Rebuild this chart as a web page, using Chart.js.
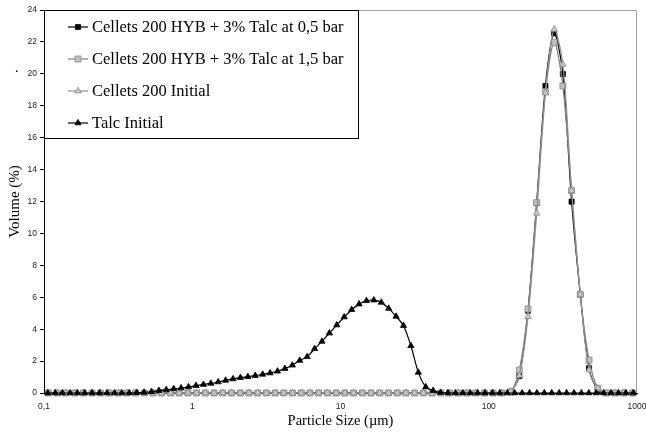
<!DOCTYPE html>
<html>
<head>
<meta charset="utf-8">
<script src="https://cdn.jsdelivr.net/npm/chart.js@4.4.0/dist/chart.umd.min.js"></script>
<style>
    html, body { margin: 0; padding: 0; background: #fff; }
    #wrap { width: 646px; height: 432px; }
</style>
</head>
<body>
<div id="wrap"><canvas id="grafico" width="646" height="432"></canvas></div>
<script>
// grade de tamanhos do talco (um), 20 classes por decada
const tamanhosTalc = [
    0.106, 0.119, 0.133, 0.150, 0.168, 0.188, 0.211, 0.237, 0.266, 0.299,
    0.335, 0.376, 0.422, 0.473, 0.531, 0.596, 0.668, 0.750, 0.841, 0.944,
    1.059, 1.189, 1.334, 1.496, 1.679, 1.884, 2.113, 2.371, 2.661, 2.985,
    3.350, 3.758, 4.217, 4.732, 5.309, 5.957, 6.683, 7.499, 8.414, 9.441,
    10.59, 11.89, 13.34, 14.96, 16.79, 18.84, 21.13, 23.71, 26.61, 29.85,
    33.50, 37.58, 42.17, 47.32, 53.09, 59.57, 66.83, 74.99, 84.14, 94.41,
    105.9, 118.9, 133.4, 149.6, 167.9, 188.4, 211.3, 237.1, 266.1, 298.5,
    335.0, 375.8, 421.7, 473.2, 530.9, 595.7, 668.3, 749.9, 841.4, 944.1
];
const talcInicial = [
    0, 0, 0, 0, 0, 0, 0, 0, 0, 0,
    0, 0, 0.02, 0.04, 0.08, 0.15, 0.20, 0.26, 0.31, 0.38,
    0.46, 0.53, 0.60, 0.69, 0.79, 0.88, 0.96, 1.02, 1.09, 1.17,
    1.25, 1.36, 1.53, 1.74, 2.04, 2.27, 2.77, 3.23, 3.75, 4.26,
    4.76, 5.22, 5.57, 5.78, 5.82, 5.68, 5.30, 4.80, 4.22, 2.96,
    1.29, 0.38, 0.15, 0.03, 0, 0, 0, 0, 0, 0,
    0, 0, 0, 0, 0, 0, 0, 0, 0, 0,
    0, 0, 0, 0, 0, 0, 0, 0, 0, 0
];

// grade de tamanhos dos cellets (um), 17 classes por decada
const tamanhosCellets = [
    0.107, 0.123, 0.140, 0.161, 0.184, 0.211, 0.241, 0.276, 0.316, 0.362, 0.415, 0.475, 0.544, 0.622, 0.713, 0.816, 0.935,
    1.070, 1.225, 1.403, 1.607, 1.840, 2.106, 2.412, 2.762, 3.162, 3.621, 4.146, 4.748, 5.436, 6.225, 7.128, 8.161, 9.345,
    10.70, 12.25, 14.03, 16.07, 18.40, 21.06, 24.12, 27.62, 31.62, 36.21, 41.46, 47.48, 54.36, 62.25, 71.28, 81.61, 93.45,
    107.0, 122.5, 140.3, 160.7, 184.0, 210.6, 241.2, 276.2, 316.2, 362.1, 414.6, 474.8, 543.6, 622.5, 712.8, 816.1, 934.5
];
const cellets05bar = [
    0, 0, 0, 0, 0, 0, 0, 0, 0, 0, 0, 0, 0, 0, 0, 0, 0,
    0, 0, 0, 0, 0, 0, 0, 0, 0, 0, 0, 0, 0, 0, 0, 0, 0,
    0, 0, 0, 0, 0, 0, 0, 0, 0, 0, 0, 0, 0, 0, 0, 0, 0,
    0, 0, 0.08, 1.06, 5.16, 11.90, 19.24, 22.54, 19.99, 11.99, 6.18, 1.55, 0.20, 0, 0, 0, 0
];
const cellets15bar = [
    0, 0, 0, 0, 0, 0, 0, 0, 0, 0, 0, 0, 0, 0, 0, 0, 0,
    0, 0, 0, 0, 0, 0, 0, 0, 0, 0, 0, 0, 0, 0, 0, 0, 0,
    0, 0, 0, 0, 0, 0, 0, 0, 0, 0, 0, 0, 0, 0, 0, 0, 0,
    0, 0, 0.05, 1.44, 5.26, 11.93, 18.88, 21.97, 19.24, 12.68, 6.18, 2.07, 0.30, 0, 0, 0, 0
];
const celletsInicial = [
    0, 0, 0, 0, 0, 0, 0, 0, 0, 0, 0, 0, 0, 0, 0, 0, 0,
    0, 0, 0, 0, 0, 0, 0, 0, 0, 0, 0, 0, 0, 0, 0, 0, 0,
    0, 0, 0, 0, 0, 0, 0, 0, 0, 0, 0, 0, 0, 0, 0, 0, 0,
    0, 0, 0.10, 1.10, 4.78, 11.26, 18.80, 22.79, 20.60, 12.68, 6.18, 1.44, 0.30, 0, 0, 0, 0
];

const ticksX = [0.1, 1, 10, 100, 1000];
const rotulosX = ['0,1', '1', '10', '100', '1000'];
const legendas = [
    'Cellets 200 HYB + 3% Talc at 0,5 bar',
    'Cellets 200 HYB + 3% Talc at 1,5 bar',
    'Cellets 200 Initial',
    'Talc Initial'
];

function pontos(xs, ys) {
    return xs.map((x, i) => ({ x: x, y: ys[i] }));
}

function serie(label, data, linha, estilo, raio, fundo, borda, ordem) {
    return {
        label: label,
        data: data,
        borderColor: linha,
        borderWidth: 1.2,
        pointStyle: estilo,
        pointRadius: raio,
        pointBackgroundColor: fundo,
        pointBorderColor: borda,
        pointBorderWidth: 0.8,
        tension: 0.3,
        fill: false,
        clip: false,
        order: ordem
    };
}

const serif = "'Liberation Serif', 'Times New Roman', serif";
const sans = "'Liberation Sans', Arial, sans-serif";

// borda cinza em cima e a direita
const moldura = {
    id: 'moldura',
    beforeDatasetsDraw(chart) {
        const ctx = chart.ctx;
        const a = chart.chartArea;
        ctx.save();
        ctx.strokeStyle = '#a0a0a0';
        ctx.lineWidth = 1;
        ctx.beginPath();
        ctx.moveTo(a.left, a.top + 0.5);
        ctx.lineTo(a.right - 0.5, a.top + 0.5);
        ctx.lineTo(a.right - 0.5, a.bottom);
        ctx.stroke();
        ctx.fillStyle = '#000';
        ctx.font = '14px ' + serif;
        ctx.fillText('.', 15, 72);
        ctx.restore();
    }
};

// legenda dentro da area do grafico
const legendaInterna = {
    id: 'legendaInterna',
    afterDatasetsDraw(chart) {
        const ctx = chart.ctx;
        const a = chart.chartArea;
        ctx.save();
        ctx.fillStyle = '#fff';
        ctx.fillRect(a.left, a.top, 314, 128);
        ctx.strokeStyle = '#000';
        ctx.lineWidth = 1;
        ctx.strokeRect(a.left + 0.5, a.top + 0.5, 314, 128);
        ctx.font = '16.5px ' + serif;
        ctx.textBaseline = 'middle';
        chart.data.datasets.forEach((ds, i) => {
            const y = a.top + 17 + i * 32;
            ctx.strokeStyle = ds.borderColor;
            ctx.lineWidth = ds.borderWidth;
            ctx.beginPath();
            ctx.moveTo(a.left + 24, y);
            ctx.lineTo(a.left + 44, y);
            ctx.stroke();
            ctx.fillStyle = ds.pointBackgroundColor;
            ctx.strokeStyle = ds.pointBorderColor;
            ctx.lineWidth = ds.pointBorderWidth;
            Chart.helpers.drawPoint(ctx, { pointStyle: ds.pointStyle, radius: ds.pointRadius, rotation: 0, borderWidth: ds.pointBorderWidth }, a.left + 34, y);
            ctx.fillStyle = '#000';
            ctx.fillText(legendas[i], a.left + 48, y + 1);
        });
        ctx.restore();
    }
};

const ctx = document.getElementById('grafico').getContext('2d');
new Chart(ctx, {
    type: 'line',
    data: {
        datasets: [
            serie(legendas[0], pontos(tamanhosCellets, cellets05bar), '#000000', 'rect', 3.6, '#000000', '#000000', 4),
            serie(legendas[1], pontos(tamanhosCellets, cellets15bar), '#808080', 'rect', 4.2, '#c0c0c0', '#8a8a8a', 3),
            serie(legendas[2], pontos(tamanhosCellets, celletsInicial), '#909090', 'triangle', 3.8, '#c8c8c8', '#8a8a8a', 2),
            serie(legendas[3], pontos(tamanhosTalc, talcInicial), '#000000', 'triangle', 3.6, '#000000', '#000000', 1)
        ]
    },
    options: {
        responsive: false,
        animation: false,
        devicePixelRatio: 1,
        layout: { padding: { left: 0, top: 10, right: 9, bottom: 0 } },
        plugins: {
            legend: { display: false },
            tooltip: { enabled: false }
        },
        scales: {
            x: {
                type: 'logarithmic',
                min: 0.1,
                max: 1000,
                afterBuildTicks: function (scale) {
                    scale.ticks = ticksX.map(v => ({ value: v }));
                },
                afterFit: function (scale) {
                    scale.height = 39;
                    scale.paddingLeft = 0;
                    scale.paddingRight = 0;
                },
                ticks: {
                    autoSkip: false,
                    maxRotation: 0,
                    padding: 9,
                    color: '#222',
                    font: { family: sans, size: 8.5 },
                    callback: function (value) {
                        const i = ticksX.indexOf(value);
                        return i >= 0 ? rotulosX[i] : '';
                    }
                },
                grid: { drawOnChartArea: false, drawTicks: false },
                border: { color: '#000', width: 1 },
                title: {
                    display: true,
                    text: 'Particle Size (µm)',
                    color: '#000',
                    font: { family: serif, size: 14.5 },
                    padding: { top: 0, bottom: 2 }
                }
            },
            y: {
                min: 0,
                max: 24,
                afterFit: function (scale) { scale.width = 44; },
                ticks: {
                    stepSize: 2,
                    padding: 3,
                    color: '#222',
                    font: { family: sans, size: 8.5 }
                },
                grid: { drawOnChartArea: false, drawTicks: true, tickLength: 4, color: '#000' },
                border: { color: '#000', width: 1 },
                title: {
                    display: true,
                    text: 'Volume (%)',
                    color: '#000',
                    font: { family: serif, size: 15 },
                    padding: { top: 6, bottom: 0 }
                }
            }
        }
    },
    plugins: [moldura, legendaInterna]
});
</script>
</body>
</html>
